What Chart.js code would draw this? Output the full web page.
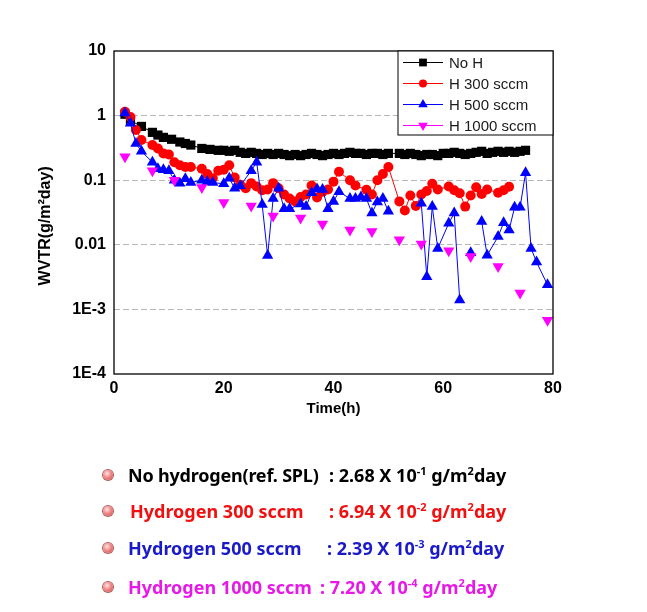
<!DOCTYPE html>
<html>
<head>
<meta charset="utf-8">
<script src="https://cdn.jsdelivr.net/npm/chart.js@4.4.1/dist/chart.umd.min.js"></script>
<style>
  body { margin: 0; background: #fff; }
  #wrap { position: relative; width: 647px; height: 612px; overflow: hidden; }
  #wvtr { position: absolute; left: 0; top: 0; }
  .note { position: absolute; left: 0; width: 647px; height: 24px; line-height: 24px;
          font-family: "Noto Sans", sans-serif; font-weight: bold; font-size: 18px; white-space: pre; }
  .note span { position: absolute; top: 0; }
  .note .dot { left: 103px; top: 7px; width: 10px; height: 10px; border-radius: 50%;
               background: radial-gradient(circle at 40% 35%, #ffe4e4 0%, #f08a8a 45%, #c84444 100%);
               box-shadow: 0 0 0 1px #b25a5a; }
  .note .lab { left: 128px; }
  .note sup { font-size: 11px; vertical-align: 7px; line-height: 0; }
</style>
</head>
<body>
<div id="wrap">
  <canvas id="wvtr" width="647" height="612"></canvas>
  <div class="note" style="top:463px;color:#000">
    <span class="dot"></span><span class="lab" style="letter-spacing:-0.2px">No hydrogen(ref. SPL)</span><span style="left:329px">: 2.68 X 10<sup>-1</sup> g/m<sup>2</sup>day</span>
  </div>
  <div class="note" style="top:499px;color:#f01010">
    <span class="dot"></span><span class="lab" style="left:130px">Hydrogen 300 sccm</span><span style="left:329px">: 6.94 X 10<sup>-2</sup> g/m<sup>2</sup>day</span>
  </div>
  <div class="note" style="top:536px;color:#1a1ac8">
    <span class="dot"></span><span class="lab">Hydrogen 500 sccm</span><span style="left:327px">: 2.39 X 10<sup>-3</sup> g/m<sup>2</sup>day</span>
  </div>
  <div class="note" style="top:575px;color:#e619e6">
    <span class="dot"></span><span class="lab">Hydrogen 1000 sccm</span><span style="left:320px">: 7.20 X 10<sup>-4</sup> g/m<sup>2</sup>day</span>
  </div>
</div>
<script>
const ctx = document.getElementById('wvtr').getContext('2d');

const seriesNames = ['No H', 'H 300 sccm', 'H 500 sccm', 'H 1000 sccm'];

const noHHours = [2, 3, 5, 7, 8, 9, 10.5, 12, 13, 14, 16, 17.5, 19, 20, 21,
    22, 23, 24, 25, 26, 27, 28, 29, 30, 31, 32, 33, 34, 35, 36, 37, 38, 39, 40, 41,
    42, 43, 44, 45, 46, 47, 48, 49, 50,
    52, 53, 54, 55, 56, 57, 58, 59, 60, 61, 62, 63, 64, 65, 66, 67, 68, 69, 70, 71, 72, 73, 74, 75];
const noHValues = [1.05, 0.84, 0.68, 0.55, 0.5, 0.46, 0.43, 0.39, 0.37, 0.35, 0.31, 0.3, 0.29, 0.29, 0.28,
    0.29, 0.27, 0.26, 0.27, 0.26, 0.25, 0.26, 0.25, 0.26, 0.25, 0.24, 0.25, 0.24, 0.25, 0.26, 0.25, 0.24, 0.25, 0.26, 0.25,
    0.26, 0.27, 0.26, 0.26, 0.25, 0.26, 0.26, 0.25, 0.26,
    0.26, 0.25, 0.26, 0.25, 0.24, 0.25, 0.25, 0.24, 0.26, 0.26, 0.27, 0.26, 0.25, 0.26, 0.27, 0.28, 0.26, 0.27, 0.28, 0.27, 0.28, 0.27, 0.28, 0.29];

const h300Hours = [2, 3, 4, 5, 7, 8, 9, 10, 11, 12, 13, 14, 16, 17, 18, 19, 20, 21, 22, 23,
    24, 25, 26, 27, 28, 29, 30, 31, 32, 33, 34, 35, 36, 37, 38, 39, 40, 41, 43, 44,
    46, 47, 48, 49, 50, 52, 53, 54, 55, 56, 57, 58, 59, 61, 62, 63, 64, 65, 66, 67, 68, 70, 71, 72];
const h300Values = [1.15, 0.95, 0.6, 0.42, 0.35, 0.31, 0.26, 0.25, 0.19, 0.17, 0.16, 0.16, 0.15, 0.125, 0.107, 0.14, 0.145, 0.17, 0.11, 0.085,
    0.075, 0.09, 0.08, 0.07, 0.072, 0.09, 0.075, 0.06, 0.052, 0.047, 0.055, 0.06, 0.083, 0.054, 0.066, 0.072, 0.095, 0.135, 0.1, 0.083,
    0.071, 0.06, 0.1, 0.125, 0.16, 0.047, 0.034, 0.058, 0.04, 0.06, 0.068, 0.088, 0.072, 0.08, 0.07, 0.063, 0.039, 0.058, 0.078, 0.061, 0.072, 0.064, 0.07, 0.079];

// null = no measurement, line is broken there
const h500Hours = [2, 3, 4, 5, 7, 8, 9, 10, 11, 12, 13, 14, 16, 17, 18, 20, 21, 22, 23, 25,
    26, 27, 28, 29, 30, 31, 32, 34, 35, 36, 37, 38, 39, 40, 41, 43, 44, 45, 46, 47,
    48, 49, 50, 53, 56, 57, 58, 59, 61, 62, 63, 64, 65, 66, 67, 68, 70, 71, 72, 73,
    74, 75, 76, 77, 79];
const h500Values = [1.1, 0.76, 0.37, 0.28, 0.19, 0.15, 0.145, 0.14, 0.1, 0.09, 0.105, 0.092, 0.1, 0.095, 0.092, 0.088, 0.107, 0.075, 0.082, 0.14,
    0.19, 0.042, 0.0068, 0.052, 0.075, 0.036, 0.036, 0.043, 0.039, 0.064, 0.073, 0.072, 0.036, 0.047, 0.066, 0.052, 0.052, 0.055, 0.052, 0.031,
    0.046, 0.052, 0.033, null, 0.044, 0.0032, 0.039, 0.0088, 0.0215, 0.031, 0.0014, null, 0.0075, null, 0.023, 0.0069, 0.0134, 0.022, 0.017, 0.038,
    0.038, 0.13, 0.0088, 0.0054, 0.0024];

const h1000Hours = [2, 7, 11, 16, 20, 25, 29, 34, 38, 43, 47, 52, 56, 61, 65, 70, 74, 79];
const h1000Values = [0.23, 0.14, 0.1, 0.077, 0.045, 0.04, 0.028, 0.026, 0.021, 0.017, 0.016, 0.012, 0.0103, 0.0081, 0.0066, 0.0046, 0.0018, 0.00068];

const xTickValues = [0, 20, 40, 60, 80];
const yTickValues = [0.0001, 0.001, 0.01, 0.1, 1, 10];
const yTickLabels = ['1E-4', '1E-3', '0.01', '0.1', '1', '10'];

function toPoints(hours, values) {
    return hours.map((h, i) => ({ x: h, y: values[i] }));
}

function drawMarker(c, style, rotation, x, y, r, color) {
    c.fillStyle = color;
    c.beginPath();
    if (style === 'rect') {
        const s = r * Math.SQRT1_2;
        c.rect(x - s, y - s, 2 * s, 2 * s);
    } else if (style === 'circle') {
        c.arc(x, y, r, 0, Math.PI * 2);
    } else {
        let rad = (rotation || 0) * Math.PI / 180;
        for (let k = 0; k < 3; k++) {
            const px = x + Math.sin(rad) * r, py = y - Math.cos(rad) * r;
            k === 0 ? c.moveTo(px, py) : c.lineTo(px, py);
            rad += 2 * Math.PI / 3;
        }
        c.closePath();
    }
    c.fill();
}

// plot frame + boxed legend in the top right corner
const frameAndLegend = {
    id: 'frameAndLegend',
    afterDraw(chart) {
        const c = chart.ctx;
        const a = chart.chartArea;
        c.save();
        c.strokeStyle = '#000';
        c.lineWidth = 1.3;
        c.strokeRect(a.left, a.top, a.right - a.left, a.bottom - a.top);

        const x0 = a.right - 155, y0 = a.top, h = 84;
        c.fillStyle = '#fff';
        c.fillRect(x0, y0, a.right - x0, h);
        c.lineWidth = 1;
        c.strokeRect(x0, y0, a.right - x0, h);

        chart.data.datasets.forEach((ds, i) => {
            const y = y0 + 11.5 + i * 21;
            c.strokeStyle = ds.borderColor;
            c.lineWidth = 1;
            c.beginPath();
            c.moveTo(x0 + 5, y);
            c.lineTo(x0 + 45, y);
            c.stroke();
            drawMarker(c, ds.pointStyle, ds.pointRotation, x0 + 25, y, ds.pointRadius - 1, ds.backgroundColor);
            c.fillStyle = '#1a1a1a';
            c.font = '15px "Liberation Sans", Arial, sans-serif';
            c.textBaseline = 'middle';
            c.textAlign = 'left';
            c.fillText(ds.label, x0 + 51, y + 1);
        });
        c.restore();
    }
};

Chart.defaults.font.family = '"Liberation Sans", Arial, sans-serif';
Chart.defaults.color = '#000';

new Chart(ctx, {
    type: 'line',
    data: {
        datasets: [
            {
                label: seriesNames[0],
                data: toPoints(noHHours, noHValues),
                borderColor: '#000000',
                backgroundColor: '#000000',
                borderWidth: 1,
                pointStyle: 'rect',
                pointRadius: 6.5,
                pointBorderWidth: 0,
                order: 3
            },
            {
                label: seriesNames[1],
                data: toPoints(h300Hours, h300Values),
                borderColor: '#ff0000',
                backgroundColor: '#ff0000',
                borderWidth: 1,
                pointStyle: 'circle',
                pointRadius: 5,
                pointBorderWidth: 0,
                order: 2
            },
            {
                label: seriesNames[2],
                data: toPoints(h500Hours, h500Values),
                borderColor: '#0000ff',
                backgroundColor: '#0000ff',
                borderWidth: 1,
                pointStyle: 'triangle',
                pointRadius: 6.5,
                pointBorderWidth: 0,
                spanGaps: false,
                order: 1
            },
            {
                label: seriesNames[3],
                data: toPoints(h1000Hours, h1000Values),
                borderColor: '#ff00ff',
                backgroundColor: '#ff00ff',
                borderWidth: 1,
                pointStyle: 'triangle',
                pointRotation: 180,
                pointRadius: 6.5,
                pointBorderWidth: 0,
                showLine: false,
                order: 0
            }
        ]
    },
    options: {
        responsive: false,
        animation: false,
        devicePixelRatio: 1,
        events: [],
        layout: { padding: { left: 36, right: 94, top: 51, bottom: 178 } },
        elements: { line: { tension: 0 } },
        plugins: { legend: { display: false }, tooltip: { enabled: false } },
        scales: {
            x: {
                type: 'linear',
                min: 0,
                max: 80,
                afterBuildTicks: s => { s.ticks = xTickValues.map(v => ({ value: v })); },
                afterFit: s => { s.height = 60; },
                grid: { display: false, drawTicks: false },
                border: { display: false },
                ticks: { padding: 5, font: { size: 16, weight: 'bold' }, maxRotation: 0 },
                title: { display: true, text: 'Time(h)', font: { size: 15, weight: 'bold' }, padding: { top: 16, bottom: 16 } }
            },
            y: {
                type: 'logarithmic',
                min: 0.0001,
                max: 10,
                afterBuildTicks: s => { s.ticks = yTickValues.map(v => ({ value: v })); },
                afterFit: s => { s.width = 78; },
                grid: {
                    drawTicks: false,
                    lineWidth: 1,
                    color: c => (c.index === 0 || c.index === yTickValues.length - 1) ? 'rgba(0,0,0,0)' : '#b8b8b8'
                },
                border: { display: false, dash: [6, 3] },
                ticks: {
                    autoSkip: false,
                    padding: 8,
                    font: { size: 16, weight: 'bold' },
                    callback: (value, i) => yTickLabels[i]
                },
                // trailing spaces push the rotated title a little below the axis centre, as in the source
                title: { display: true, text: 'WVTR(g/m\u00B2day)      ', font: { size: 16, weight: 'bold' }, padding: 0 }
            }
        }
    },
    plugins: [frameAndLegend]
});
</script>
</body>
</html>
